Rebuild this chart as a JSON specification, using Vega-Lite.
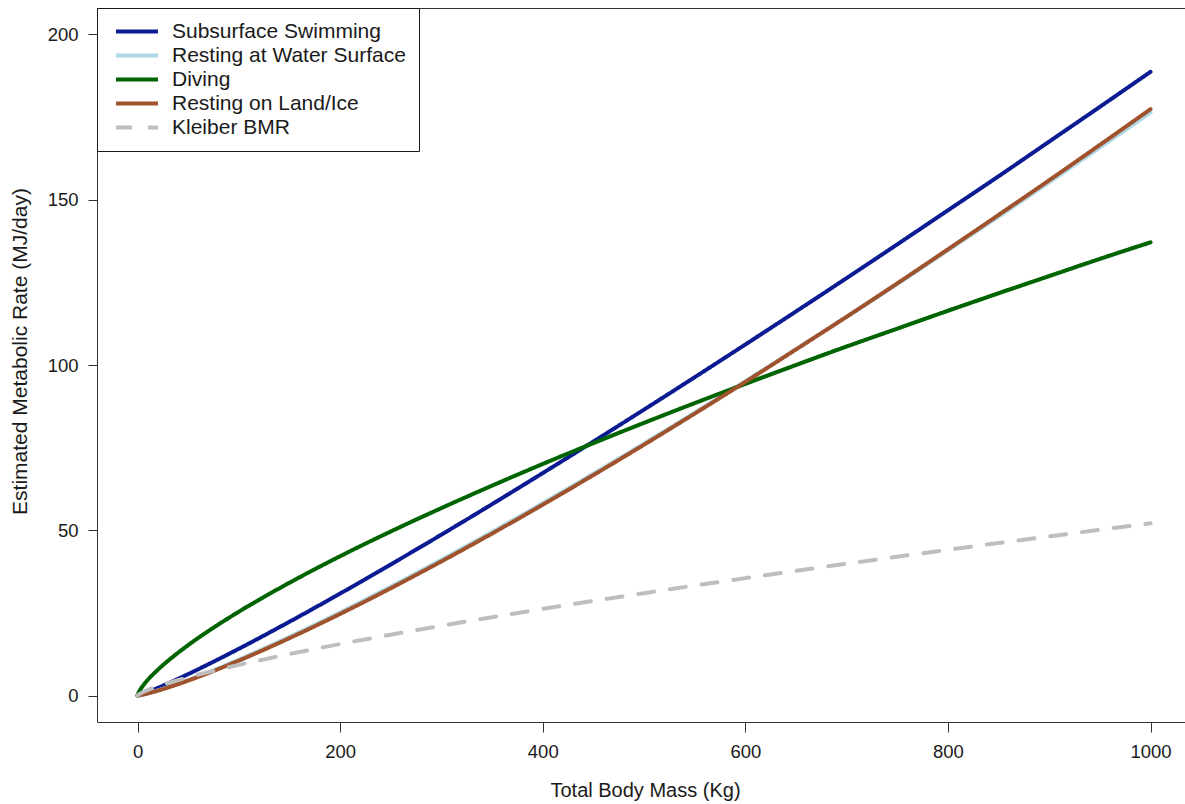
{
  "$schema": "https://vega.github.io/schema/vega-lite/v6.json",
  "autosize": {"type": "none"},
  "width": 1088,
  "height": 714,
  "padding": {"left": 97, "top": 8, "right": 0, "bottom": 82},
  "config": {
    "view": {"stroke": null},
    "font": "Liberation Sans",
    "axis": {
      "grid": false,
      "domainColor": "#333333",
      "domainWidth": 1,
      "tickColor": "#333333",
      "tickWidth": 1,
      "labelColor": "#1a1a1a",
      "titleColor": "#1a1a1a",
      "labelFont": "Liberation Sans",
      "titleFont": "Liberation Sans",
      "labelFontSize": 18.5,
      "titleFontSize": 20,
      "titleFontWeight": "normal"
    },
    "legend": {
      "title": null,
      "orient": "none",
      "legendX": 0,
      "legendY": 0,
      "fillColor": "white",
      "strokeColor": "#1a1a1a",
      "padding": 13,
      "symbolType": "stroke",
      "symbolSize": 1764,
      "symbolStrokeWidth": 4,
      "symbolOffset": 4,
      "clipHeight": 21,
      "labelFont": "Liberation Sans",
      "labelFontSize": 21,
      "labelColor": "#1a1a1a",
      "labelOffset": 12,
      "rowPadding": 2,
      "labelLimit": 400
    }
  },
  "data": {
    "values": [
      {"mass": 0, "swim": 0, "surf": 0, "dive": 0, "land": 0, "bmr": 0},
      {"mass": 1, "swim": 0.08, "surf": 0.041, "dive": 0.867, "land": 0.037, "bmr": 0.293},
      {"mass": 2, "swim": 0.17, "surf": 0.096, "dive": 1.44, "land": 0.088, "bmr": 0.49},
      {"mass": 5, "swim": 0.49, "surf": 0.29, "dive": 2.82, "land": 0.27, "bmr": 0.98},
      {"mass": 10, "swim": 1.06, "surf": 0.67, "dive": 4.69, "land": 0.63, "bmr": 1.65},
      {"mass": 20, "swim": 2.31, "surf": 1.55, "dive": 7.79, "land": 1.47, "bmr": 2.77},
      {"mass": 30, "swim": 3.65, "surf": 2.53, "dive": 10.49, "land": 2.42, "bmr": 3.76},
      {"mass": 50, "swim": 6.49, "surf": 4.70, "dive": 15.26, "land": 4.52, "bmr": 5.51},
      {"mass": 75, "swim": 10.24, "surf": 7.68, "dive": 20.54, "land": 7.43, "bmr": 7.47},
      {"mass": 100, "swim": 14.15, "surf": 10.88, "dive": 25.36, "land": 10.57, "bmr": 9.27},
      {"mass": 150, "swim": 22.33, "surf": 17.77, "dive": 34.13, "land": 17.37, "bmr": 12.56},
      {"mass": 200, "swim": 30.86, "surf": 25.16, "dive": 42.15, "land": 24.70, "bmr": 15.58},
      {"mass": 250, "swim": 39.67, "surf": 32.97, "dive": 49.64, "land": 32.47, "bmr": 18.42},
      {"mass": 300, "swim": 48.68, "surf": 41.10, "dive": 56.72, "land": 40.59, "bmr": 21.12},
      {"mass": 350, "swim": 57.90, "surf": 49.52, "dive": 63.51, "land": 49.02, "bmr": 23.71},
      {"mass": 400, "swim": 67.30, "surf": 58.21, "dive": 70.06, "land": 57.74, "bmr": 26.21},
      {"mass": 450, "swim": 76.84, "surf": 67.13, "dive": 76.37, "land": 66.70, "bmr": 28.63},
      {"mass": 500, "swim": 86.51, "surf": 76.26, "dive": 82.50, "land": 75.89, "bmr": 30.98},
      {"mass": 550, "swim": 96.30, "surf": 85.58, "dive": 88.47, "land": 85.30, "bmr": 33.28},
      {"mass": 600, "swim": 106.2, "surf": 95.07, "dive": 94.29, "land": 94.88, "bmr": 35.52},
      {"mass": 650, "swim": 116.2, "surf": 104.8, "dive": 99.99, "land": 104.7, "bmr": 37.72},
      {"mass": 700, "swim": 126.3, "surf": 114.6, "dive": 105.6, "land": 114.6, "bmr": 39.88},
      {"mass": 750, "swim": 136.5, "surf": 124.5, "dive": 111.0, "land": 124.7, "bmr": 42.00},
      {"mass": 800, "swim": 146.8, "surf": 134.7, "dive": 116.4, "land": 135.0, "bmr": 44.09},
      {"mass": 850, "swim": 157.1, "surf": 144.9, "dive": 121.7, "land": 145.4, "bmr": 46.14},
      {"mass": 900, "swim": 167.6, "surf": 155.3, "dive": 126.9, "land": 155.9, "bmr": 48.15},
      {"mass": 950, "swim": 178.1, "surf": 165.8, "dive": 132.1, "land": 166.6, "bmr": 50.14},
      {"mass": 1000, "swim": 188.7, "surf": 176.4, "dive": 137.1, "land": 177.4, "bmr": 52.10}
    ]
  },
  "transform": [
    {"fold": ["swim", "surf", "dive", "land", "bmr"], "as": ["series", "rate"]}
  ],
  "encoding": {
    "y": {
      "field": "rate",
      "type": "quantitative",
      "scale": {"domain": [-8, 208], "nice": false, "zero": false},
      "axis": {
        "title": "Estimated Metabolic Rate (MJ/day)",
        "titleFontSize": 21,
        "titleY": 343,
        "values": [0, 50, 100, 150, 200],
        "tickSize": 9,
        "labelPadding": 10,
        "titlePadding": 17
      }
    }
  },
  "layer": [
    {
      "mark": {"type": "line", "opacity": 0},
      "encoding": {
        "x": {
          "field": "mass",
          "type": "quantitative",
          "scale": {"domain": [-40, 1034], "nice": false, "zero": false},
          "axis": {"orient": "top", "labels": false, "ticks": false, "title": null, "domain": true}
        },
        "detail": {"field": "series"}
      }
    },
    {
      "mark": {"type": "line", "strokeWidth": 4, "strokeCap": "round", "strokeJoin": "round", "interpolate": "monotone"},
      "encoding": {
        "x": {
          "field": "mass",
          "type": "quantitative",
          "scale": {"domain": [-40, 1034], "nice": false, "zero": false},
          "axis": {
            "orient": "bottom",
            "title": "Total Body Mass (Kg)",
            "titleX": 548,
            "format": "d",
            "values": [0, 200, 400, 600, 800, 1000],
            "tickSize": 10,
            "labelPadding": 10,
            "titlePadding": 20
          }
        },
        "color": {
          "field": "series",
          "type": "nominal",
          "scale": {
            "domain": ["swim", "surf", "dive", "land", "bmr"],
            "range": ["#0b1c93", "#add8e6", "#006400", "#a0522d", "#bebebe"]
          },
          "legend": {
            "labelExpr": "{'swim': 'Subsurface Swimming', 'surf': 'Resting at Water Surface', 'dive': 'Diving', 'land': 'Resting on Land/Ice', 'bmr': 'Kleiber BMR'}[datum.value]"
          }
        },
        "strokeDash": {
          "field": "series",
          "type": "nominal",
          "scale": {
            "domain": ["swim", "surf", "dive", "land", "bmr"],
            "range": [[1, 0], [1, 0], [1, 0], [1, 0], [16, 16]]
          },
          "legend": {
            "labelExpr": "{'swim': 'Subsurface Swimming', 'surf': 'Resting at Water Surface', 'dive': 'Diving', 'land': 'Resting on Land/Ice', 'bmr': 'Kleiber BMR'}[datum.value]"
          }
        }
      }
    }
  ],
  "resolve": {"axis": {"x": "independent"}}
}
